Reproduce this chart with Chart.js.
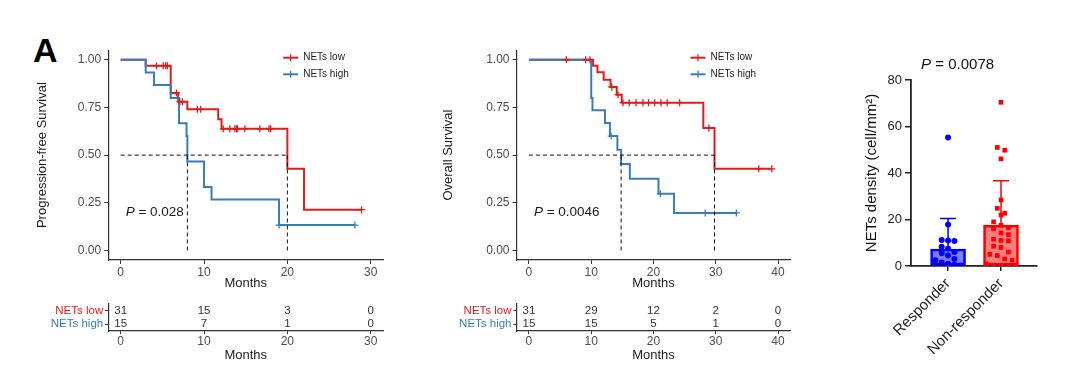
<!DOCTYPE html>
<html>
<head>
<meta charset="utf-8">
<script src="https://cdn.jsdelivr.net/npm/chart.js@4.4.1/dist/chart.umd.min.js"></script>
<style>
  body { margin: 0; background: #fff; width: 1080px; height: 386px; position: relative; overflow: hidden; }
  .panel { position: absolute; }
  #letter { position: absolute; left: 33px; top: 33px; font: bold 34px "Liberation Sans", Arial, sans-serif; line-height: 1; color: #000; }
</style>
</head>
<body>
<div id="letter">A</div>
<div class="panel" style="left:0;top:40px;width:400px;height:260px"><canvas id="pfsChart"></canvas></div>
<div class="panel" style="left:0;top:295px;width:400px;height:70px"><canvas id="pfsRisk"></canvas></div>
<div class="panel" style="left:430px;top:40px;width:370px;height:260px"><canvas id="osChart"></canvas></div>
<div class="panel" style="left:430px;top:295px;width:370px;height:70px"><canvas id="osRisk"></canvas></div>
<div class="panel" style="left:840px;top:40px;width:240px;height:346px"><canvas id="barChart"></canvas></div>
<script>
const font = '"Liberation Sans", Arial, sans-serif';
const red = "#E41A1C";
const blue = "#377EB8";

const groupLabels = ["NETs low", "NETs high"];
const survTicks = [0, 0.25, 0.5, 0.75, 1];

// Progression-free survival (step times in months, survival after each step)
const pfsLowTime = [0, 3, 6, 6.9, 8, 11.7, 12.1, 20, 22, 28.9];
const pfsLowSurv = [1, 0.968, 0.826, 0.78, 0.74, 0.688, 0.638, 0.428, 0.214, 0.214];
const pfsLowCensor = [4.3, 5.1, 5.4, 5.6, 6.7, 7.1, 7.4, 9.2, 9.6, 12.3, 13.1, 13.7, 13.9, 14.0, 14.9, 16.7, 17.8, 18.0, 28.9];
const pfsHighTime = [0, 3, 4, 6, 7, 7.9, 8, 10, 10.9, 19, 28.1];
const pfsHighSurv = [1, 0.933, 0.867, 0.8, 0.667, 0.6, 0.467, 0.333, 0.267, 0.133, 0.133];
const pfsHighCensor = [19.0, 28.1];
const pfsMedians = [8, 20];
const pfsRiskTimes = [0, 10, 20, 30];
const pfsRiskLow = [31, 15, 3, 0];
const pfsRiskHigh = [15, 7, 1, 0];

// Overall survival
const osLowTime = [0, 10.3, 11.0, 12.0, 13.1, 14.1, 14.9, 28.0, 29.8, 39.0];
const osLowSurv = [1, 0.968, 0.934, 0.895, 0.857, 0.817, 0.775, 0.642, 0.428, 0.428];
const osLowCensor = [6.0, 9.1, 9.8, 13.3, 14.3, 15.1, 16.1, 17.2, 18.3, 19.2, 20.2, 21.2, 22.2, 24.2, 28.9, 36.9, 39.0];
const osHighTime = [0, 10.0, 10.2, 12.2, 13.0, 14.2, 14.8, 16.2, 20.8, 23.3, 33.3];
const osHighSurv = [1, 0.8, 0.735, 0.668, 0.6, 0.528, 0.453, 0.376, 0.298, 0.197, 0.197];
const osHighCensor = [13.2, 21.1, 28.3, 33.3];
const osMedians = [14.8, 29.8];
const osRiskTimes = [0, 10, 20, 30, 40];
const osRiskLow = [31, 29, 12, 2, 0];
const osRiskHigh = [15, 15, 5, 1, 0];

// NETs density by response
const barGroups = ["Responder", "Non-responder"];
const barMeans = [7.3, 17.6];
const barSD = [13.1, 19.1];
const responderValues = [55.3, 17.9, 11.2, 11.0, 10.8, 8.3, 7.5, 6.0, 5.5, 4.5, 3.0, 2.5, 1.5, 1.0, 0.5, 0.2, 0.0];
const nonResponderValues = [70.4, 51.0, 49.8, 46.1, 28.4, 24.8, 22.7, 21.9, 19.0, 17.5, 16.5, 16.0, 14.2, 13.5, 11.5, 11.0, 10.8, 8.5, 8.0, 6.0, 5.0, 4.5, 3.0, 2.5, 1.0, 0.3, 0.2, 0.0, 0.0];

function survAt(times, surv, t) {
  let s = surv[0];
  for (let i = 0; i < times.length; i++) if (times[i] <= t) s = surv[i];
  return s;
}

function kmChart(id, cfg) {
  const dash = { type: "line", borderColor: "#111", borderWidth: 1, borderDash: [4, 3], pointRadius: 0, fill: false };
  const curve = (t, s, col) => ({
    type: "line", data: t.map((v, i) => ({ x: v, y: s[i] })), stepped: true,
    borderColor: col, borderWidth: 2, pointRadius: 0, fill: false,
  });
  const censor = (t, s, c, col) => ({
    type: "line", showLine: false, data: c.map((v) => ({ x: v, y: survAt(t, s, v) })),
    pointStyle: "cross", pointRadius: 3.5, pointBorderColor: col, pointBorderWidth: 1.3,
  });
  const medMax = Math.max(...cfg.medians);
  const datasets = [
    { ...dash, data: [{ x: 0, y: 0.5 }, { x: medMax, y: 0.5 }] },
    ...cfg.medians.map((m) => ({ ...dash, data: [{ x: m, y: 0 }, { x: m, y: 0.5 }] })),
    censor(cfg.highTime, cfg.highSurv, cfg.highCensor, blue),
    censor(cfg.lowTime, cfg.lowSurv, cfg.lowCensor, red),
    curve(cfg.highTime, cfg.highSurv, blue),
    curve(cfg.lowTime, cfg.lowSurv, red),
  ];

  const annot = {
    id: "kmAnnot",
    afterDraw(chart) {
      const { ctx, chartArea: a, scales } = chart;
      ctx.save();
      // P value
      const px = scales.x.getPixelForValue(cfg.pPos[0]);
      const py = scales.y.getPixelForValue(cfg.pPos[1]);
      ctx.textBaseline = "middle";
      ctx.textAlign = "left";
      ctx.fillStyle = "#1a1a1a";
      ctx.font = "italic 13.5px " + font;
      ctx.fillText("P", px, py);
      const w = ctx.measureText("P").width;
      ctx.font = "13.5px " + font;
      ctx.fillText(" = " + cfg.pText, px + w, py);
      // legend
      groupLabels.forEach((lab, i) => {
        const col = i === 0 ? red : blue;
        const lx = a.right - 100;
        const ly = a.top + 7.5 + i * 16.6;
        ctx.strokeStyle = col;
        ctx.lineWidth = 2;
        ctx.beginPath();
        ctx.moveTo(lx, ly);
        ctx.lineTo(lx + 15, ly);
        ctx.stroke();
        ctx.lineWidth = 1.3;
        ctx.beginPath();
        ctx.moveTo(lx + 7.5, ly - 3.5);
        ctx.lineTo(lx + 7.5, ly + 3.5);
        ctx.stroke();
        ctx.fillStyle = "#222";
        ctx.font = "10px " + font;
        ctx.fillText(lab, lx + 20, ly);
      });
      ctx.restore();
    },
  };

  new Chart(document.getElementById(id), {
    type: "line",
    data: { datasets },
    options: {
      responsive: true,
      maintainAspectRatio: false,
      animation: false,
      events: [],
      layout: { padding: { top: 10, right: cfg.padRight, bottom: 0, left: 0 } },
      plugins: { legend: { display: false }, tooltip: { enabled: false } },
      scales: {
        x: {
          type: "linear",
          min: cfg.xMin,
          max: cfg.xMax,
          afterBuildTicks: (s) => { s.ticks = cfg.riskTimes.map((v) => ({ value: v })); },
          afterFit: (s) => { s.height = 40; },
          grid: { drawOnChartArea: false, drawTicks: true, tickLength: 4, color: "#333", lineWidth: 1 },
          border: { color: "#333", width: 1.2 },
          ticks: { font: { family: font, size: 12 }, color: "#4d4d4d", padding: 1, maxRotation: 0 },
          title: { display: true, text: "Months", font: { family: font, size: 13 }, color: "#1a1a1a", padding: { top: 0, bottom: 9 } },
        },
        y: {
          type: "linear",
          min: -0.05,
          max: 1.05,
          afterBuildTicks: (s) => { s.ticks = survTicks.map((v) => ({ value: v })); },
          afterFit: (s) => { s.width = cfg.yWidth; },
          grid: { drawOnChartArea: false, drawTicks: true, tickLength: 4, color: "#333", lineWidth: 1 },
          border: { color: "#333", width: 1.2 },
          ticks: { font: { family: font, size: 12 }, color: "#4d4d4d", padding: 3, callback: (v) => Number(v).toFixed(2) },
          title: { display: true, text: cfg.yTitle, font: { family: font, size: 13 }, color: "#1a1a1a", padding: { top: cfg.titlePad, bottom: 0 } },
        },
      },
    },
    plugins: [annot],
  });
}

function riskTable(id, cfg) {
  const rows = [cfg.riskLow, cfg.riskHigh];
  const numbers = {
    id: "riskNumbers",
    afterDraw(chart) {
      const { ctx, scales } = chart;
      ctx.save();
      ctx.font = "11.5px " + font;
      ctx.fillStyle = "#333";
      ctx.textAlign = "center";
      ctx.textBaseline = "middle";
      rows.forEach((row, r) => {
        const py = scales.y.getPixelForValue(r + 1);
        row.forEach((n, i) => ctx.fillText(String(n), scales.x.getPixelForValue(cfg.riskTimes[i]), py));
      });
      ctx.restore();
    },
  };
  new Chart(document.getElementById(id), {
    type: "scatter",
    data: {
      datasets: [{
        data: rows.flatMap((row, r) => row.map((n, i) => ({ x: cfg.riskTimes[i], y: r + 1 }))),
        pointRadius: 0,
      }],
    },
    options: {
      responsive: true,
      maintainAspectRatio: false,
      animation: false,
      events: [],
      layout: { padding: { top: 7, right: cfg.padRight, bottom: 0, left: 0 } },
      plugins: { legend: { display: false }, tooltip: { enabled: false } },
      scales: {
        x: {
          type: "linear",
          min: cfg.xMin,
          max: cfg.xMax,
          afterBuildTicks: (s) => { s.ticks = cfg.riskTimes.map((v) => ({ value: v })); },
          afterFit: (s) => { s.height = 34; },
          grid: { drawOnChartArea: false, drawTicks: true, tickLength: 3, color: "#333", lineWidth: 1 },
          border: { color: "#333", width: 1.2 },
          ticks: { font: { family: font, size: 12 }, color: "#4d4d4d", padding: 0, maxRotation: 0 },
          title: { display: true, text: "Months", font: { family: font, size: 13 }, color: "#1a1a1a", padding: { top: 0, bottom: 2 } },
        },
        y: {
          type: "linear",
          min: 0.5,
          max: 2.5,
          reverse: true,
          afterBuildTicks: (s) => { s.ticks = groupLabels.map((g, i) => ({ value: i + 1 })); },
          afterFit: (s) => { s.width = cfg.yWidth; },
          grid: { drawOnChartArea: false, drawTicks: true, tickLength: 3, color: "#333", lineWidth: 1 },
          border: { color: "#333", width: 1.2 },
          ticks: {
            font: { family: font, size: 11.5 },
            padding: 2,
            color: (c) => (c.index === 0 ? red : blue),
            callback: (v) => groupLabels[v - 1],
          },
        },
      },
    },
    plugins: [numbers],
  });
}

kmChart("pfsChart", {
  lowTime: pfsLowTime, lowSurv: pfsLowSurv, lowCensor: pfsLowCensor,
  highTime: pfsHighTime, highSurv: pfsHighSurv, highCensor: pfsHighCensor,
  medians: pfsMedians, riskTimes: pfsRiskTimes,
  xMin: -1.5, xMax: 31.5, yWidth: 108.2, padRight: 16.8, titlePad: 35,
  yTitle: "Progression-free Survival", pText: "0.028", pPos: [0.6, 0.2],
});
riskTable("pfsRisk", {
  riskTimes: pfsRiskTimes, riskLow: pfsRiskLow, riskHigh: pfsRiskHigh,
  xMin: -1.5, xMax: 31.5, yWidth: 108.2, padRight: 16.8,
});
kmChart("osChart", {
  lowTime: osLowTime, lowSurv: osLowSurv, lowCensor: osLowCensor,
  highTime: osHighTime, highSurv: osHighSurv, highCensor: osHighCensor,
  medians: osMedians, riskTimes: osRiskTimes,
  xMin: -2, xMax: 42, yWidth: 86.5, padRight: 9.5, titlePad: 11,
  yTitle: "Overall Survival", pText: "0.0046", pPos: [0.8, 0.2],
});
riskTable("osRisk", {
  riskTimes: osRiskTimes, riskLow: osRiskLow, riskHigh: osRiskHigh,
  xMin: -2, xMax: 42, yWidth: 86.5, padRight: 9.5,
});

// spread scatter points sideways when their values are close
function spread(values, center, step) {
  const sorted = [...values].sort((a, b) => b - a);
  const pts = [];
  let row = [];
  const flush = () => {
    row.forEach((v, j) => pts.push({ x: center + (j - (row.length - 1) / 2) * step, y: v }));
    row = [];
  };
  sorted.forEach((v) => {
    if (row.length && (row[0] - v > 2.6 || row.length >= 5)) flush();
    row.push(v);
  });
  flush();
  return pts;
}

const barLine = ["#0000FF", "#FF0000"];
const barFill = ["rgba(0, 0, 255, 0.5)", "rgba(255, 0, 0, 0.5)"];

const barExtras = {
  id: "barExtras",
  afterDatasetsDraw(chart) {
    const { ctx, scales } = chart;
    ctx.save();
    barMeans.forEach((m, i) => {
      const cx = scales.x.getPixelForValue(i);
      const y0 = scales.y.getPixelForValue(m);
      const y1 = scales.y.getPixelForValue(m + barSD[i]);
      ctx.strokeStyle = barLine[i];
      ctx.lineWidth = 1.5;
      ctx.beginPath();
      ctx.moveTo(cx, y0);
      ctx.lineTo(cx, y1);
      ctx.moveTo(cx - 8, y1);
      ctx.lineTo(cx + 8, y1);
      ctx.stroke();
    });
    const px = scales.x.getPixelForValue(0.18);
    const py = scales.y.getPixelForValue(86.5);
    ctx.textBaseline = "middle";
    ctx.textAlign = "left";
    ctx.fillStyle = "#111";
    const rest = " = 0.0078";
    ctx.font = "italic 15px " + font;
    const wp = ctx.measureText("P").width;
    ctx.font = "15px " + font;
    const wr = ctx.measureText(rest).width;
    const sx = px - (wp + wr) / 2;
    ctx.font = "italic 15px " + font;
    ctx.fillText("P", sx, py);
    ctx.font = "15px " + font;
    ctx.fillText(rest, sx + wp, py);
    ctx.restore();
  },
};

new Chart(document.getElementById("barChart"), {
  type: "bar",
  data: {
    datasets: [
      {
        type: "scatter",
        data: spread(responderValues, 0, 0.12),
        pointStyle: "circle",
        pointRadius: 3,
        pointBackgroundColor: "#0000FF",
        pointBorderWidth: 0,
      },
      {
        type: "scatter",
        data: spread(nonResponderValues, 1, 0.14),
        pointStyle: "rect",
        pointRadius: 3.3,
        pointBackgroundColor: "#FF0000",
        pointBorderWidth: 0,
      },
      {
        type: "bar",
        data: barMeans.map((m, i) => ({ x: i, y: m })),
        backgroundColor: barFill,
        borderColor: barLine,
        borderWidth: 2,
        borderSkipped: false,
        barThickness: 35,
      },
    ],
  },
  options: {
    responsive: true,
    maintainAspectRatio: false,
    animation: false,
    events: [],
    layout: { padding: { top: 40, right: 43, bottom: 0, left: 0 } },
    plugins: { legend: { display: false }, tooltip: { enabled: false } },
    scales: {
      x: {
        type: "linear",
        offset: false,
        min: -0.7,
        max: 1.68,
        afterBuildTicks: (s) => { s.ticks = barGroups.map((g, i) => ({ value: i })); },
        afterFit: (s) => { s.height = 120; },
        grid: { offset: false, drawOnChartArea: false, drawTicks: true, tickLength: 5, color: "#222", lineWidth: 1.5 },
        border: { color: "#222", width: 1.8 },
        ticks: {
          font: { family: font, size: 15 },
          color: "#222",
          padding: 4,
          autoSkip: false,
          minRotation: 45,
          maxRotation: 45,
          callback: (v) => barGroups[v],
        },
      },
      y: {
        type: "linear",
        min: 0,
        max: 80,
        ticks: { stepSize: 20, font: { family: font, size: 13 }, color: "#222", padding: 3 },
        afterFit: (s) => { s.width = 71; },
        grid: { drawOnChartArea: false, drawTicks: true, tickLength: 6, color: "#222", lineWidth: 1.5 },
        border: { color: "#222", width: 1.8 },
        title: { display: true, text: "NETs density (cell/mm²)", font: { family: font, size: 15 }, color: "#111", padding: { top: 23, bottom: 0 } },
      },
    },
  },
  plugins: [barExtras],
});
</script>
</body>
</html>
